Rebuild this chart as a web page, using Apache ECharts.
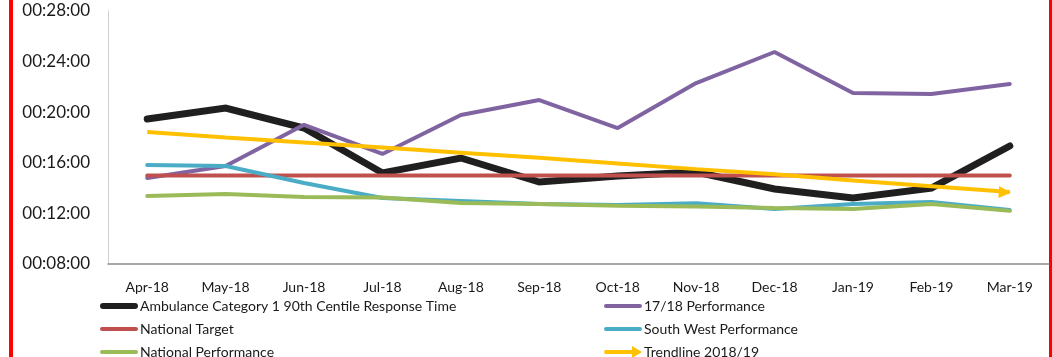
<!DOCTYPE html>
<html>
<head>
<meta charset="utf-8">
<script src="https://cdn.jsdelivr.net/npm/echarts@6/dist/echarts.min.js"></script>
<style>
html,body{margin:0;padding:0;background:#fff;}
#c{width:1052px;height:357px;}
</style>
</head>
<body>
<div id="c"></div>
<script>
// Values in minutes
var categories = ['Apr-18','May-18','Jun-18','Jul-18','Aug-18','Sep-18','Oct-18','Nov-18','Dec-18','Jan-19','Feb-19','Mar-19'];
var ambulanceCat1 = [19.46, 20.33, 18.75, 15.2, 16.38, 14.48, 14.96, 15.27, 13.93, 13.22, 14.0, 17.33];
var perf1718 = [14.8, 15.75, 19.0, 16.7, 19.78, 20.96, 18.75, 22.3, 24.76, 21.52, 21.44, 22.23];
var nationalTarget = [15, 15, 15, 15, 15, 15, 15, 15, 15, 15, 15, 15];
var southWest = [15.83, 15.75, 14.4, 13.22, 12.98, 12.74, 12.66, 12.8, 12.35, 12.74, 12.9, 12.27];
var nationalPerf = [13.38, 13.53, 13.3, 13.25, 12.82, 12.75, 12.6, 12.55, 12.43, 12.35, 12.74, 12.2];
var trendline = [18.43, 18.0, 17.6, 17.2, 16.8, 16.4, 15.95, 15.5, 15.1, 14.6, 14.15, 13.69];
var yTicks = [8, 12, 16, 20, 24, 28];

var FONT = 'Lato';
var TXT = '#1a1a1a';

function fmt(v){ var m = Math.round(v); return '00:' + (m < 10 ? '0' + m : m) + ':00'; }

var trendData = trendline.map(function(v, i){
  if (i === trendline.length - 1) {
    return {value: v, symbol: 'triangle', symbolSize: [12, 12], symbolRotate: -94, symbolOffset: [-5, 0.4]};
  }
  return {value: v, symbol: 'none'};
});

var lineIcon = 'path://M0,0 M38,12 M2,4 L36,4 A2,2 0 0 1 36,8 L2,8 A2,2 0 0 1 2,4 Z';
var thickIcon = 'path://M0,0 M38,12 M3,3 L35,3 A3,3 0 0 1 35,9 L3,9 A3,3 0 0 1 3,3 Z';
var arrowIcon = 'path://M0,0 M38,12 M2,4 L28,4 L28,0 L38,6 L28,12 L28,8 L2,8 A2,2 0 0 1 2,4 Z';

var legendItems = [
  {name: 'Ambulance Category 1 90th Centile Response Time', icon: thickIcon, left: 100, top: 298},
  {name: '17/18 Performance', icon: lineIcon, left: 604, top: 298},
  {name: 'National Target', icon: lineIcon, left: 100, top: 321},
  {name: 'South West Performance', icon: lineIcon, left: 604, top: 321},
  {name: 'National Performance', icon: lineIcon, left: 100, top: 344},
  {name: 'Trendline 2018/19', icon: arrowIcon, left: 604, top: 344}
];

var legends = legendItems.map(function(it){
  return {
    left: it.left, top: it.top, padding: 0, itemWidth: 38, itemHeight: 12, itemGap: 0,
    textStyle: {fontFamily: FONT, fontSize: 14, color: TXT, lineHeight: 16, padding: [0,0,0,-3]},
    data: [{name: it.name, icon: it.icon}]
  };
});

var chart = echarts.init(document.getElementById('c'), null, {renderer: 'canvas'});
chart.setOption({
  animation: false,
  backgroundColor: '#fff',
  grid: {left: 108, right: 3, top: 11, bottom: 93},
  xAxis: {
    type: 'category',
    data: categories,
    boundaryGap: true,
    axisLine: {lineStyle: {color: '#8c8c8c', width: 1.5}},
    axisTick: {show: false},
    axisLabel: {fontFamily: FONT, fontSize: 14, color: TXT, margin: 16, interval: 0}
  },
  yAxis: {
    type: 'value',
    min: yTicks[0], max: yTicks[yTicks.length - 1], interval: 4,
    axisLine: {show: true, lineStyle: {color: '#d0d0d0', width: 1}},
    axisTick: {show: false},
    splitLine: {show: false},
    axisLabel: {fontFamily: FONT, fontSize: 17, color: TXT, margin: 18, formatter: fmt}
  },
  legend: legends,
  series: [
    {name: 'Ambulance Category 1 90th Centile Response Time', type: 'line', data: ambulanceCat1, showSymbol: false, symbol: 'none',
      color: '#1f1f1f', lineStyle: {width: 7, color: '#1f1f1f', cap: 'round', join: 'miter'}, z: 2},
    {name: '17/18 Performance', type: 'line', data: perf1718, showSymbol: false, symbol: 'none',
      color: '#8064a2', lineStyle: {width: 4, color: '#8064a2', cap: 'round'}, z: 3},
    {name: 'National Target', type: 'line', data: nationalTarget, showSymbol: false, symbol: 'none',
      color: '#c0504d', lineStyle: {width: 4, color: '#c0504d', cap: 'round'}, z: 4},
    {name: 'South West Performance', type: 'line', data: southWest, showSymbol: false, symbol: 'none',
      color: '#4bacc6', lineStyle: {width: 4, color: '#4bacc6', cap: 'round'}, z: 5},
    {name: 'National Performance', type: 'line', data: nationalPerf, showSymbol: false, symbol: 'none',
      color: '#9bbb59', lineStyle: {width: 4, color: '#9bbb59', cap: 'round'}, z: 6},
    {name: 'Trendline 2018/19', type: 'line', data: trendData, showSymbol: true,
      color: '#ffc000', itemStyle: {color: '#ffc000'}, lineStyle: {width: 4, color: '#ffc000', cap: 'butt'}, z: 7}
  ],
  graphic: [
    {type: 'rect', left: 9, top: 0, shape: {width: 4, height: 357}, style: {fill: '#ff0000'}, silent: true},
    {type: 'rect', left: 1049, top: 0, shape: {width: 3, height: 357}, style: {fill: '#ff0000'}, silent: true}
  ]
});
</script>
</body>
</html>
